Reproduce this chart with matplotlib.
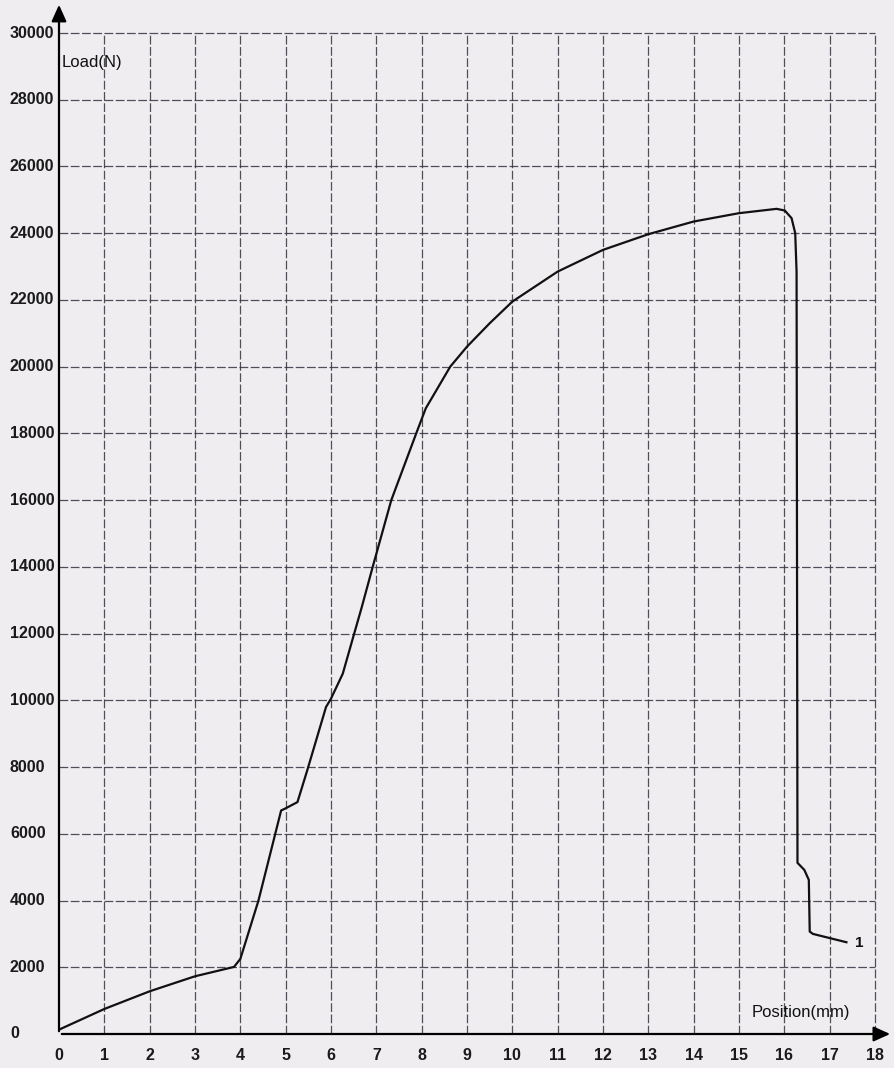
import matplotlib.pyplot as plt
import matplotlib.transforms as mtransforms

# curve
position = [0, 1, 2, 3, 3.86, 4.0, 4.4, 4.9, 4.98, 5.26, 5.48, 5.89, 6.0, 6.26, 6.48,
            6.68, 6.92, 7.33, 7.88, 8.09, 8.63, 9.0, 9.5, 10, 11, 12, 13, 14, 15,
            15.83, 16.01, 16.16, 16.24, 16.27, 16.29, 16.44, 16.54, 16.56, 16.63, 17.37]
load = [130, 750, 1280, 1730, 2010, 2250, 4000, 6700, 6750, 6950, 7920, 9800, 10050, 10800, 11850,
        12800, 14000, 16000, 18000, 18750, 20000, 20600, 21300, 21950, 22850, 23500, 23970, 24350, 24600,
        24730, 24680, 24450, 24000, 22850, 5130, 4920, 4620, 3070, 3000, 2750]

x_ticks = list(range(0, 19))
y_ticks = list(range(0, 30001, 2000))
curve_label = "1"
label_pos = (17.55, 2720)

paper = '#efedf0'
grid_col = '#33333f'

fig = plt.figure(figsize=(8.94, 10.68), dpi=100, facecolor=paper)
ax = fig.add_axes([59 / 894, 34 / 1068, 816 / 894, 1001 / 1068])
ax.set_facecolor(paper)
ax.set_xlim(0, 18)
ax.set_ylim(0, 30000)

for xv in x_ticks[1:]:
    ax.axvline(xv, color=grid_col, lw=0.9, ls=(0, (7, 2)), alpha=0.85, zorder=1, clip_on=False)
for yv in y_ticks[1:]:
    ax.axhline(yv, color=grid_col, lw=0.9, ls=(0, (7, 2)), alpha=0.85, zorder=1, clip_on=False)

ax.plot(position, load, color='#111111', lw=1.6, zorder=3)
ax.text(label_pos[0], label_pos[1], curve_label, fontsize=11, fontweight='bold',
        family='Liberation Sans', va='center', ha='left', color='#111111')

for s in ax.spines.values():
    s.set_visible(False)
ax.set_xticks([])
ax.set_yticks([])

# axes with arrows
ax.annotate('', xy=(0, 1.031), xycoords='axes fraction', xytext=(0, 0),
            arrowprops=dict(arrowstyle='-|>,head_length=1.0,head_width=0.45', color='black', lw=1.6),
            annotation_clip=False)
ax.annotate('', xy=(1.022, 0), xycoords='axes fraction', xytext=(0, 0),
            arrowprops=dict(arrowstyle='-|>,head_length=1.0,head_width=0.45', color='black', lw=1.6),
            annotation_clip=False)

# tick labels
ytrans = mtransforms.blended_transform_factory(fig.transFigure, ax.transData)
for yv in y_ticks:
    ax.text(10 / 894, yv, str(yv), transform=ytrans, fontsize=11.5, family='Liberation Sans',
            fontweight='bold', ha='left', va='center', color='#1a1a1a')
xtrans = mtransforms.blended_transform_factory(ax.transData, fig.transFigure)
for xv in x_ticks:
    ax.text(xv, 12 / 1068, str(xv), transform=xtrans, fontsize=11.5, family='Liberation Sans',
            fontweight='bold', ha='center', va='center', color='#1a1a1a')

ax.text(62 / 894, 1 - 63 / 1068, 'Load(N)', transform=fig.transFigure, fontsize=12,
        family='Liberation Sans', ha='left', va='center', color='#111111')
ax.text(752 / 894, 1 - 1013 / 1068, 'Position(mm)', transform=fig.transFigure, fontsize=12,
        family='Liberation Sans', ha='left', va='center', color='#111111')

fig.savefig('out.png', dpi=100, facecolor=paper)
